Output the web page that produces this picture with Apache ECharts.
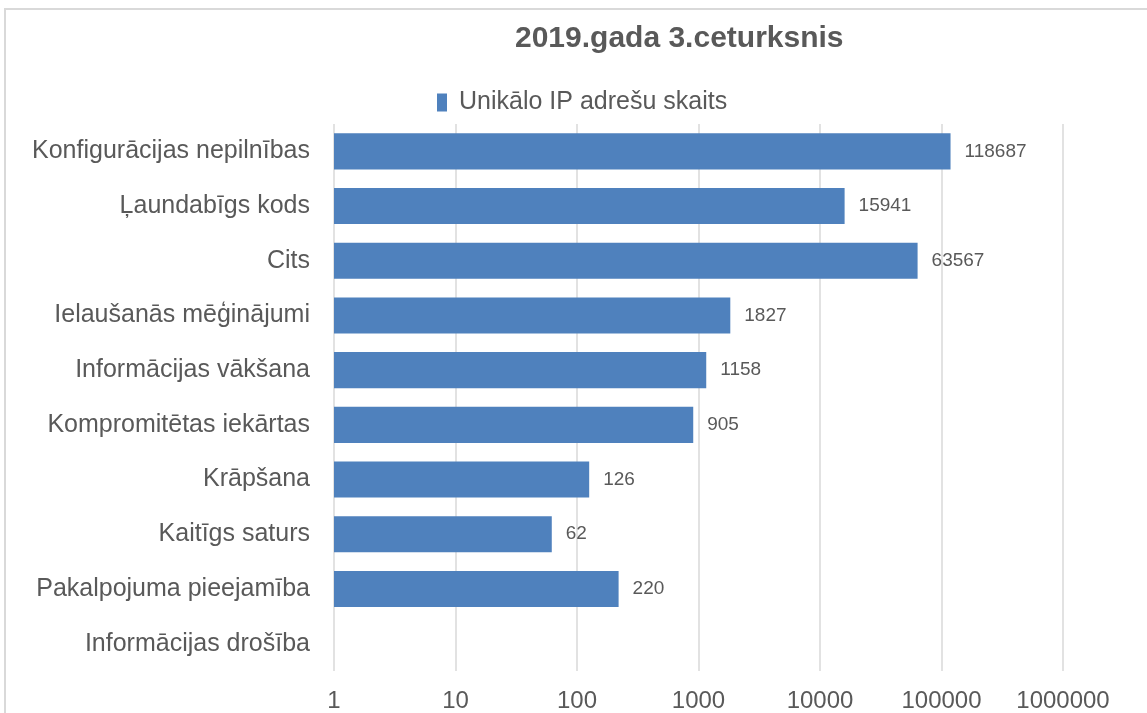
<!DOCTYPE html>
<html>
<head>
<meta charset="utf-8">
<title>2019.gada 3.ceturksnis</title>
<script src="https://cdn.jsdelivr.net/npm/echarts@6/dist/echarts.min.js"></script>
<style>
  html, body { margin: 0; padding: 0; background: #ffffff; }
  #chart { width: 1147px; height: 713px; }
</style>
</head>
<body>
<div id="chart"></div>
<script>
// Incident categories (top to bottom) and unique IP address counts
const categories = [
  'Konfigurācijas nepilnības',
  'Ļaundabīgs kods',
  'Cits',
  'Ielaušanās mēģinājumi',
  'Informācijas vākšana',
  'Kompromitētas iekārtas',
  'Krāpšana',
  'Kaitīgs saturs',
  'Pakalpojuma pieejamība',
  'Informācijas drošība'
];
const uniqueIpCounts = [118687, 15941, 63567, 1827, 1158, 905, 126, 62, 220, null];
const seriesName = 'Unikālo IP adrešu skaits';
const chartTitle = '2019.gada 3.ceturksnis';

const textGrey = '#595959';
const gridGrey = '#d9d9d9';
const barBlue = '#4f81bd';
const fontFamily = '"Liberation Sans", Arial, Helvetica, sans-serif';

const chart = echarts.init(document.getElementById('chart'), null, { renderer: 'canvas' });

chart.setOption({
  animation: false,
  backgroundColor: '#ffffff',
  textStyle: { fontFamily: fontFamily, color: textGrey },
  graphic: [{
    type: 'rect',
    shape: { x: 5, y: 9, width: 1300, height: 900 },
    style: { fill: 'none', stroke: gridGrey, lineWidth: 2 },
    silent: true,
    z: -10
  }],
  title: {
    text: chartTitle,
    left: 515,
    top: 24,
    padding: 0,
    textStyle: { fontFamily: fontFamily, fontSize: 30, fontWeight: 'bold', color: textGrey }
  },
  legend: {
    data: [seriesName],
    left: 437,
    top: 90,
    padding: 0,
    icon: 'rect',
    itemWidth: 10,
    itemHeight: 18,
    itemGap: 12,
    textStyle: { fontFamily: fontFamily, fontSize: 25, color: textGrey, padding: [0, 0, 0, 7] }
  },
  grid: {
    left: 334,
    right: 84,
    top: 124,
    bottom: 42,
    containLabel: false
  },
  xAxis: {
    type: 'log',
    logBase: 10,
    min: 1,
    max: 1000000,
    axisLine: { show: false },
    axisTick: { show: false },
    splitLine: { show: true, lineStyle: { color: gridGrey, width: 1.5 } },
    axisLabel: {
      fontFamily: fontFamily,
      fontSize: 24,
      color: textGrey,
      margin: 18,
      formatter: function (v) { return String(Math.round(v)); }
    }
  },
  yAxis: {
    type: 'category',
    inverse: true,
    data: categories,
    axisLine: { show: false },
    axisTick: { show: false },
    splitLine: { show: false },
    axisLabel: {
      fontFamily: fontFamily,
      fontSize: 25,
      color: textGrey,
      margin: 24
    }
  },
  series: [{
    name: seriesName,
    type: 'bar',
    data: uniqueIpCounts,
    barCategoryGap: '34%',
    itemStyle: { color: barBlue },
    label: {
      show: true,
      position: 'right',
      distance: 14,
      fontFamily: fontFamily,
      fontSize: 19,
      color: textGrey,
      formatter: function (p) { return p.value == null ? '' : String(p.value); }
    }
  }]
});
</script>
</body>
</html>
